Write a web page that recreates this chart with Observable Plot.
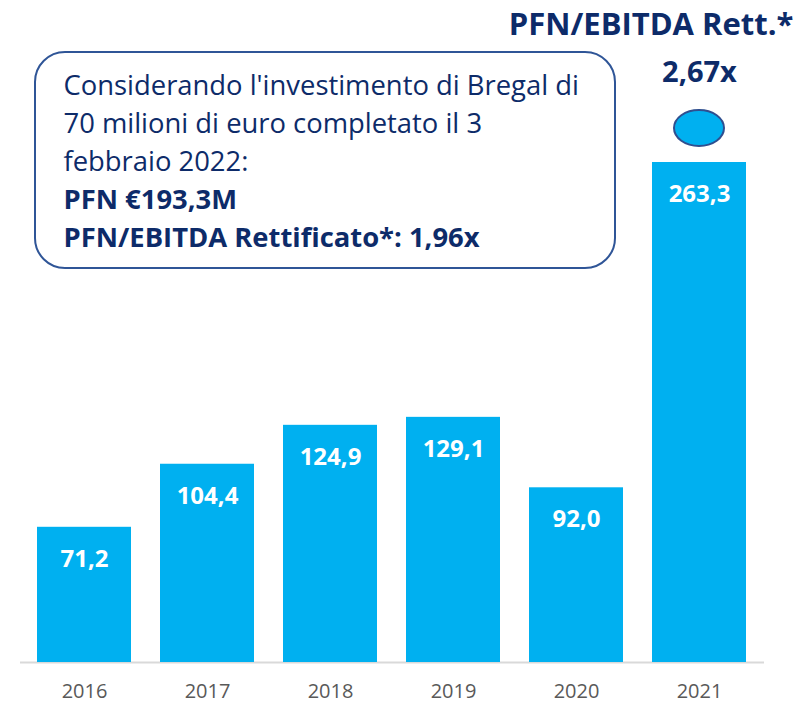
<!DOCTYPE html>
<html>
<head>
<meta charset="utf-8">
<script src="https://cdn.jsdelivr.net/npm/d3@7"></script>
<script src="https://cdn.jsdelivr.net/npm/@observablehq/plot@0.6"></script>
<style>
  html, body { margin: 0; padding: 0; background: #ffffff; }
  #chart svg { display: block; }
</style>
</head>
<body>
<div id="chart"></div>
<script>
const years = ["2016", "2017", "2018", "2019", "2020", "2021"];
const values = [71.2, 104.4, 124.9, 129.1, 92.0, 263.3];
const ratioTitle = "PFN/EBITDA Rett.*";
const ratioValue = "2,67x";
const noteLines = [
  "Considerando l'investimento di Bregal di",
  "70 milioni di euro completato il 3",
  "febbraio 2022:"
];
const noteBoldLines = [
  "PFN €193,3M",
  "PFN/EBITDA Rettificato*: 1,96x"
];

const data = years.map((year, i) => ({year, value: values[i]}));
const last = data[data.length - 1];
const fmt = v => d3.format(".1f")(v).replace(".", ",");

const navy = "#0D2B69";
const boxStroke = "#2F5597";
const barColor = "#00B0F0";
const font = "'Open Sans', Lato, sans-serif";

function noteBox() {
  const g = d3.create("svg:g");
  g.append("rect")
    .attr("x", 35).attr("y", 52)
    .attr("width", 580).attr("height", 216)
    .attr("rx", 30).attr("ry", 30)
    .attr("fill", "white")
    .attr("stroke", boxStroke)
    .attr("stroke-width", 2);
  return g.node();
}

function ellipseMark(index, scales) {
  const sx = scales.x;
  const bw = typeof sx.bandwidth === "function" ? sx.bandwidth()
    : (scales.scales && scales.scales.x && scales.scales.x.bandwidth) || 0;
  const cx = sx(last.year) + bw / 2;
  const cy = scales.y(last.value) - 34;
  const g = d3.create("svg:g");
  g.append("ellipse")
    .attr("cx", cx).attr("cy", cy)
    .attr("rx", 25).attr("ry", 18)
    .attr("fill", barColor)
    .attr("stroke", "#2F4F8F")
    .attr("stroke-width", 2);
  return g.node();
}

const chart = Plot.plot({
  width: 797,
  height: 704,
  marginLeft: 20,
  marginRight: 33,
  marginTop: 0,
  marginBottom: 42,
  style: {fontFamily: font, background: "white"},
  x: {domain: years, range: [20, 764], paddingInner: 0.235, paddingOuter: 0.12},
  y: {domain: [0, 263.3], range: [662, 162], axis: null},
  marks: [
    Plot.ruleY([0], {stroke: "#d9d9d9", strokeWidth: 2}),
    Plot.barY(data, {x: "year", y: "value", fill: barColor}),
    Plot.axisX({tickSize: 0, tickPadding: 21, fontSize: 20, color: "#595959", label: null}),
    Plot.text(data, {x: "year", y: "value", text: d => fmt(d.value), dy: 32,
      fill: "white", fontWeight: "bold", fontSize: 24}),
    noteBox,
    Plot.text([noteLines.join("\n")], {text: d => d, frameAnchor: "top-left", lineAnchor: "top",
      textAnchor: "start", dx: 43, dy: 67, lineHeight: 1.4, fontSize: 27.4, fill: navy}),
    Plot.text([noteBoldLines.join("\n")], {text: d => d, frameAnchor: "top-left", lineAnchor: "top",
      textAnchor: "start", dx: 43, dy: 181, lineHeight: 1.4, fontSize: 27.4, fontWeight: "bold", fill: navy}),
    ellipseMark,
    Plot.text([last], {x: "year", y: "value", text: () => ratioValue, dy: -90,
      fontSize: 29, fontWeight: "bold", fill: navy}),
    Plot.text([last], {x: "year", y: "value", text: () => ratioTitle, dy: -137, dx: 94,
      textAnchor: "end", fontSize: 31, fontWeight: "bold", fill: navy})
  ]
});
document.getElementById("chart").appendChild(chart);
</script>
</body>
</html>
